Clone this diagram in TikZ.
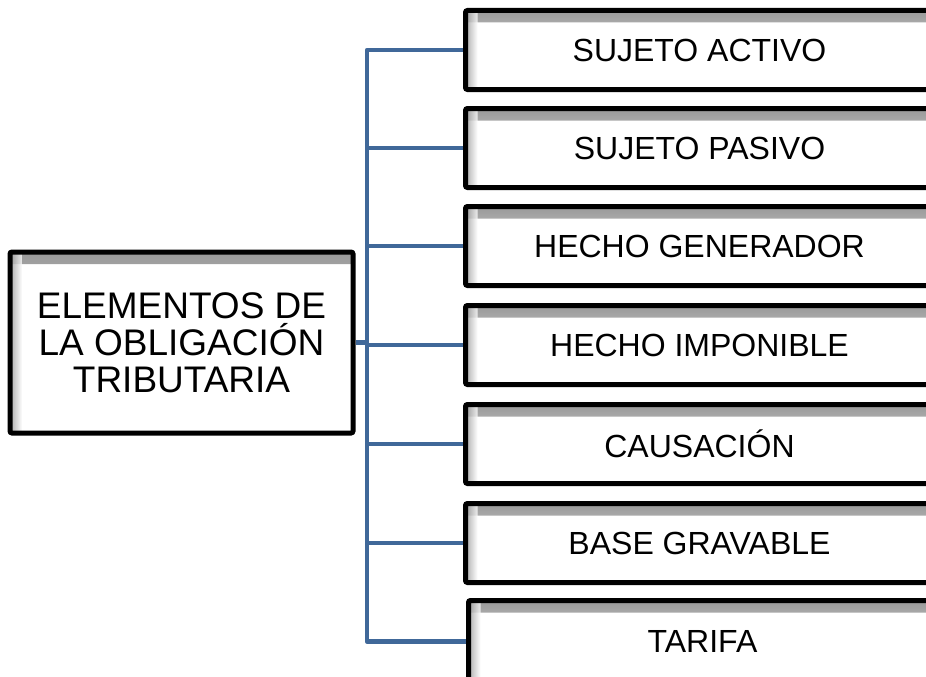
\documentclass[tikz,border=0pt]{standalone}
\usepackage{fontspec}
\setmainfont{Liberation Sans}
\usetikzlibrary{backgrounds,calc}
\definecolor{linkblue}{RGB}{64,104,153}
\tikzset{
  x=1pt, y=-1pt,
  boxbase/.style={draw=black, line width=5pt, rounded corners=2pt, fill=white,
    inner sep=0pt, align=center, text=black,
    path picture={
      \shade[top color=black!40, bottom color=white]
        (path picture bounding box.north west) rectangle
        ([yshift=-12pt]path picture bounding box.north east);
      \shade[left color=black!40, right color=white, fill opacity=0.8]
        (path picture bounding box.north west) rectangle
        ([xshift=12pt]path picture bounding box.south west);
    }},
  mainbox/.style={boxbase, minimum width=343pt, minimum height=181pt,
    font=\fontsize{37}{37}\selectfont},
  itembox/.style={boxbase, anchor=north west, minimum width=468pt, minimum height=79pt,
    font=\fontsize{32}{38}\selectfont},
  conn/.style={draw=linkblue, line width=4.6pt, line join=round}
}
\begin{document}
\begin{tikzpicture}
\useasboundingbox (0,0) rectangle (926,677);
\node[mainbox] (main) at (181.5,342.5) {ELEMENTOS DE\\LA OBLIGACIÓN\\TRIBUTARIA};
\node[itembox] (b1) at (463,8) {SUJETO ACTIVO};
\node[itembox] (b2) at (463,106) {SUJETO PASIVO};
\node[itembox] (b3) at (463,204) {HECHO GENERADOR};
\node[itembox] (b4) at (463,303) {HECHO IMPONIBLE};
\node[itembox] (b5) at (463,402) {CAUSACIÓN};
\node[itembox] (b6) at (463,501) {BASE GRAVABLE};
\node[itembox, minimum height=82pt] (b7) at (466,598) {TARIFA};
\coordinate (tx) at (367,0);
\begin{scope}[on background layer]
\draw[conn] (b1.west) -- (b1.west -| tx) -- (b7.west -| tx) -- (b7.west);
\draw[conn] (b2.west -| tx) -- (b2.west);
\draw[conn] (b3.west -| tx) -- (b3.west);
\draw[conn] (b4.west -| tx) -- (b4.west);
\draw[conn] (b5.west -| tx) -- (b5.west);
\draw[conn] (b6.west -| tx) -- (b6.west);
\draw[conn] (main.east) -- (main.east -| tx);
\end{scope}
\end{tikzpicture}
\end{document}
